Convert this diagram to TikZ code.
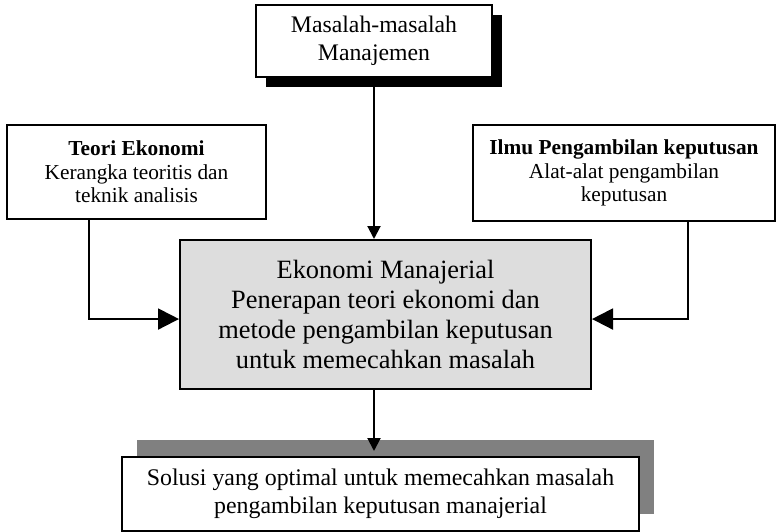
\documentclass[tikz,border=0pt]{standalone}
\usepackage{fontspec}
\setmainfont{Liberation Serif}
\usetikzlibrary{arrows.meta,shadows}
\definecolor{kotakabu}{HTML}{DDDDDD}
\definecolor{bayangabu}{HTML}{808080}

\begin{document}
\begin{tikzpicture}[x=0.75pt,y=-0.75pt,
		kotak/.style={draw=black,line width=1.5pt,fill=white,align=center,inner sep=0pt},
		panah/.style={line width=1.5pt,-{Triangle[length=15.75pt,width=15.75pt]}},
		panahkecil/.style={line width=1.5pt,-{Triangle[length=9.75pt,width=9.75pt]}}]
		\useasboundingbox (0,0) rectangle (776,532);
		% kotak-kotak
		\node[kotak,minimum width=177pt,minimum height=54pt,font=\fontsize{17.8}{21}\selectfont,
			drop shadow={shadow xshift=7.5pt,shadow yshift=-7.5pt,fill=black,opacity=1}]
			(masalah) at (374,41) {Masalah-masalah\\Manajemen};
		\node[kotak,minimum width=194.25pt,minimum height=70.5pt,font=\fontsize{16}{17.6}\selectfont]
			(teori) at (136.5,172) {\textbf{Teori Ekonomi}\\Kerangka teoritis dan\\teknik analisis};
		\node[kotak,minimum width=226.5pt,minimum height=72pt,font=\fontsize{16}{17.6}\selectfont]
			(ilmu) at (624,173) {\textbf{Ilmu Pengambilan keputusan}\\Alat-alat pengambilan\\keputusan};
		\node[kotak,fill=kotakabu,minimum width=308.25pt,minimum height=111.75pt,font=\fontsize{19.8}{22.5}\selectfont]
			(ekmen) at (385.5,314.5) {Ekonomi Manajerial\\Penerapan teori ekonomi dan\\metode pengambilan keputusan\\untuk memecahkan masalah};
		\node[kotak,minimum width=387.75pt,minimum height=55.5pt,font=\fontsize{17.9}{21}\selectfont,
			drop shadow={shadow xshift=11.25pt,shadow yshift=12.75pt,fill=bayangabu,opacity=1}]
			(solusi) at (380.5,494) {Solusi yang optimal untuk memecahkan masalah\\pengambilan keputusan manajerial};
		% panah
		\draw[panahkecil] (masalah.south) -- (masalah.south |- ekmen.north);
		\draw[panah] ([xshift=-35.6pt]teori.south) |- ([yshift=-3.4pt]ekmen.west);
		\draw[panah] ([xshift=48pt]ilmu.south) |- ([yshift=-3.4pt]ekmen.east);
		\draw[panahkecil,shorten >=3.75pt] (masalah.south |- ekmen.south) -- (masalah.south |- solusi.north);
	\end{tikzpicture}
\end{document}
